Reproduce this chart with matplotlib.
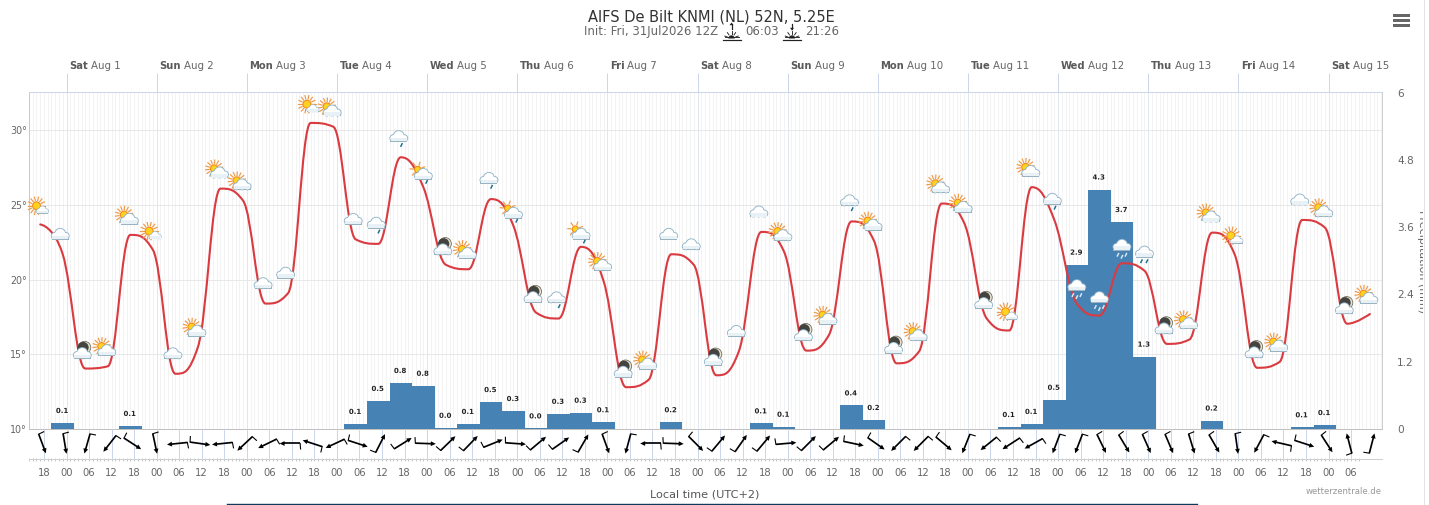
import numpy as np
import matplotlib
matplotlib.use("Agg")
import matplotlib.pyplot as plt
import matplotlib.patheffects as pe
from matplotlib.path import Path
from matplotlib.patches import PathPatch, Circle, Rectangle, Polygon, Wedge
from matplotlib.lines import Line2D
from matplotlib.transforms import Affine2D, IdentityTransform, Bbox, blended_transform_factory

plt.rcParams["font.family"] = ["DejaVu Sans"]

# ---------------- data ----------------
title = "AIFS De Bilt KNMI (NL) 52N, 5.25E"
init_text = "Init: Fri, 31Jul2026 12Z"
sunrise = "06:03"
sunset = "21:26"

series_hours = list(range(-7, 348, 6))      # hours from Aug 1 00:00 local
temps = [23.7, 21.7, 14.05, 14.2, 23.0, 22.0, 13.7, 15.5, 26.1, 25.3, 18.4, 19.1,
         30.5, 30.25, 22.7, 22.4, 28.2, 26.2, 21.0, 20.7, 25.4, 23.6, 17.8, 17.4,
         22.2, 19.9, 12.8, 13.3, 21.7, 21.0, 13.6, 15.2, 23.2, 21.9, 15.25, 16.3,
         23.9, 22.6, 14.4, 15.2, 25.1, 23.8, 17.4, 16.6, 26.2, 24.0, 18.4, 17.6,
         21.1, 20.6, 15.7, 16.0, 23.15, 21.7, 14.1, 14.5, 24.0, 23.5, 17.05, 17.7]
icons = list("SCNPPSCPPPCC" "SPCRRTNPRTNR" "TPNPCCNCCPNP" "RPNPPPNSPRHH" "HDNPPSNPCPNP")

bar_hours = [-1, 17, 77, 83, 89, 95, 101, 107, 113, 119, 125, 131, 137, 143, 161, 185, 191,
             209, 215, 251, 257, 263, 269, 275, 281, 287, 305, 329, 335]
bar_values = [0.107, 0.054, 0.09, 0.50, 0.82, 0.77, 0.02, 0.09, 0.48, 0.32, 0.01, 0.27, 0.29,
              0.12, 0.12, 0.10, 0.04, 0.42, 0.16, 0.035, 0.09, 0.52, 2.93, 4.27, 3.69, 1.29,
              0.15, 0.03, 0.07]
bar_labels = ["0.1", "0.1", "0.1", "0.5", "0.8", "0.8", "0.0", "0.1", "0.5", "0.3", "0.0", "0.3",
              "0.3", "0.1", "0.2", "0.1", "0.1", "0.4", "0.2", "0.1", "0.1", "0.5", "2.9", "4.3",
              "3.7", "1.3", "0.2", "0.1", "0.1"]

wind_angles = [-69.5, -80.5, -106, -128, -33, -78, 186, -8, 186, 223, 206, 180, 162, 205, -18,
               63, 32, -2, 44, 46, 22, -4, 40, 35, 60, -70, 255, 180, -2, -45, 50, 55, 50, 5,
               45, 40, -12, -35, 225, 225, -40, 248, 219, 213, 209, 249, 249, -64, -59, -66,
               -67, -73, -60, -82, 242, 167, -18, -57, 104.5, 75.5]

day_hours = [24 * i for i in range(15)]
day_names = ["Sat", "Sun", "Mon", "Tue", "Wed", "Thu", "Fri", "Sat", "Sun", "Mon", "Tue", "Wed",
             "Thu", "Fri", "Sat"]
day_dates = ["Aug %d" % d for d in range(1, 16)]
tick_hours = list(range(-6, 343, 6))
tick_labels = ["%02d" % (h % 24) for h in tick_hours]
temp_ticks = [10, 15, 20, 25, 30]
precip_ticks = [0, 1.2, 2.4, 3.6, 4.8, 6]
precip_tick_labels = ["0", "1.2", "2.4", "3.6", "4.8", "6"]

# ---------------- figure ----------------
W, H = 1429, 505
DPI = 72
fig = plt.figure(figsize=((W + 0.01) / DPI, (H + 0.01) / DPI), dpi=DPI, facecolor="white")
ID = IdentityTransform()
def py(y):
    return H - y

L, R, T, B = 28.5, 1382.0, 92.5, 429.0
rect = [L / W, (H - B) / H, (R - L) / W, (B - T) / H]
XLIM = ((L - 66.5) / 3.756, (R - 66.5) / 3.756)
TLIM = (10, 10 + (B - T) / 14.93)

GREY = "#666666"
AX = "#ccd6eb"

ax_t = fig.add_axes(rect, zorder=1)
ax_p = fig.add_axes(rect, zorder=2, facecolor="none")
ax_l = fig.add_axes(rect, zorder=3, facecolor="none")
for a in (ax_t, ax_p, ax_l):
    a.set_xlim(*XLIM)
ax_t.set_ylim(*TLIM)
ax_l.set_ylim(*TLIM)
ax_p.set_ylim(0, 6)
ax_l.axis("off")

# background axis: temperature grid, day ticks
ax_t.set_yticks(temp_ticks)
ax_t.set_yticklabels(["%d°" % t for t in temp_ticks], fontsize=9.5, color=GREY)
ax_t.tick_params(axis="y", length=0, pad=1.5)
ax_t.xaxis.tick_top()
ax_t.set_xticks(day_hours)
ax_t.set_xticklabels([])
ax_t.tick_params(axis="x", which="major", length=19.5, width=1, color=AX)
ax_t.set_xticks(np.arange(-10, 351), minor=True)
ax_t.tick_params(axis="x", which="minor", length=0)
ax_t.grid(axis="y", color="#e8e8e8", lw=1)
ax_t.grid(axis="x", which="minor", color="#f3f3f3", lw=1)
ax_t.vlines(day_hours, *TLIM, color="#e2e6ee", lw=1, zorder=1)
ax_t.set_axisbelow(True)
for s, c in zip(("top", "left", "right", "bottom"), (AX, "#c8c8c8", "#d0d0d0", "#c0c0c0")):
    ax_t.spines[s].set_color(c)
    ax_t.spines[s].set_linewidth(1)

# precipitation bars
ax_p.bar(bar_hours, bar_values, width=6, color="#4682b4", linewidth=0, zorder=2)
for h, v, s in zip(bar_hours, bar_values, bar_labels):
    ax_p.annotate(s, (h, v), xytext=(-0.6, 12), textcoords="offset pixels", ha="center", va="center",
                  fontsize=7, fontweight="bold", color="#222222", zorder=3,
                  path_effects=[pe.withStroke(linewidth=2, foreground="white")])
for s in ax_p.spines.values():
    s.set_visible(False)
ax_p.yaxis.tick_right()
ax_p.set_yticks(precip_ticks)
ax_p.set_yticklabels(precip_tick_labels, fontsize=10.5, color=GREY)
ax_p.tick_params(axis="y", length=0, pad=15)
ax_p.set_xticks(tick_hours)
ax_p.set_xticklabels(tick_labels, fontsize=10, color=GREY)
ax_p.tick_params(axis="x", length=30, width=1, color=AX, pad=9)

# temperature: Highcharts style spline
def spline_path(xs, ys, smoothing=1.5):
    verts = [(xs[0], ys[0])]
    codes = [Path.MOVETO]
    n = len(xs)
    rx, ry = xs[0], ys[0]
    for i in range(1, n):
        x, y = xs[i], ys[i]
        if i < n - 1:
            px, p_y, nx, ny = xs[i - 1], ys[i - 1], xs[i + 1], ys[i + 1]
            d = smoothing + 1
            lcx, lcy = (smoothing * x + px) / d, (smoothing * y + p_y) / d
            rcx, rcy = (smoothing * x + nx) / d, (smoothing * y + ny) / d
            c = (rcy - lcy) * (rcx - x) / (rcx - lcx) + y - rcy
            lcy += c
            rcy += c
            if lcy > p_y and lcy > y:
                lcy = max(p_y, y); rcy = 2 * y - lcy
            elif lcy < p_y and lcy < y:
                lcy = min(p_y, y); rcy = 2 * y - lcy
            if rcy > ny and rcy > y:
                rcy = max(ny, y); lcy = 2 * y - rcy
            elif rcy < ny and rcy < y:
                rcy = min(ny, y); lcy = 2 * y - rcy
        else:
            lcx, lcy, rcx, rcy = x, y, x, y
        verts += [(rx, ry), (lcx, lcy), (x, y)]
        codes += [Path.CURVE4] * 3
        rx, ry = rcx, rcy
    return Path(verts, codes)

ax_l.add_patch(PathPatch(spline_path(series_hours, temps), fc="none", ec="#da3b40", lw=2.1,
                         zorder=3, capstyle="round"))

# weather icons, drawn in pixel offsets around each data point
def add(art):
    art.set_clip_on(False)
    ax_l.add_artist(art)

def cloud(t, cx, cy, s=1.0, edge="#8fb4c8", fill="white"):
    tt = Affine2D().scale(s).translate(cx, cy) + t
    parts = [((0, 1.5), 5.0), ((-5.5, -0.6), 3.0), ((5.5, -0.6), 3.0), ((-2.8, 0.2), 3.4)]
    for (xy, r) in parts:
        add(Circle(xy, r + 0.9, fc=edge, ec="none", transform=tt, zorder=5))
    add(Rectangle((-8.5, -4.5), 17, 3.0, fc="#9ab3c0", ec="none", transform=tt, zorder=5))
    for (xy, r) in parts:
        add(Circle(xy, r, fc=fill, ec="none", transform=tt, zorder=6))
    add(Rectangle((-8, -3.6), 16, 3.4, fc="#e8f1f6", ec="none", transform=tt, zorder=6))

def sun(t, cx, cy, disc=3.2, rin=4.6, rout=8.0, n=13, a0=0, a1=360):
    tt = Affine2D().translate(cx, cy) + t
    for a in np.linspace(a0, a1, n, endpoint=(a1 - a0) < 360):
        c, s = np.cos(np.radians(a)), np.sin(np.radians(a))
        add(Line2D([rin * c, rout * c], [rin * s, rout * s], color="#ee9a48", lw=1.2,
                   transform=tt, zorder=4.5))
    add(Circle((0, 0), disc + 0.7, fc="#f08a1d", ec="none", transform=tt, zorder=4.6))
    add(Circle((0, 0), disc - 0.4, fc="#ffd21f", ec="none", transform=tt, zorder=4.7))

def moon(t, cx, cy):
    tt = Affine2D().translate(cx, cy) + t
    add(Circle((0, 0), 6.2, fc="#e9e2cf", ec="#6a6a5a", lw=0.8, transform=tt, zorder=4.6))
    add(Circle((-1.5, 0), 5.6, fc="#43433f", ec="none", transform=tt, zorder=4.7))

def drop(t, cx, cy, c="#1c6f93"):
    tt = Affine2D().translate(cx, cy) + t
    add(Line2D([0.6, -0.6], [1.2, -1.2], color=c, lw=1.5, transform=tt, zorder=7))

for h, v, k in zip(series_hours, temps, icons):
    t = Affine2D().translate(*ax_l.transData.transform((h, v)))
    if k == "C":
        cloud(t, -2.5, 19)
    elif k == "P":
        sun(t, -6.3, 20, disc=3.6, rin=5.2, rout=8.6, a0=10, a1=290, n=12)
        cloud(t, -1, 14.7)
    elif k == "S":
        sun(t, -3.7, 18.7, disc=3.8, rin=5.4, rout=8.8, n=14)
        cloud(t, 2.3, 13.7, s=0.68)
    elif k == "N":
        moon(t, -0.7, 21)
        cloud(t, -3, 14)
    elif k == "R":
        cloud(t, -2, 19.7)
        drop(t, 0.7, 12.3)
    elif k == "T":
        sun(t, -5.7, 17.7, disc=3, rin=4.6, rout=7.5, a0=20, a1=280, n=6)
        cloud(t, 0, 11.7)
        drop(t, 3.3, 5.3)
    elif k == "H":
        cloud(t, 0, 17)
        for dx, dy in ((-4, 8.5), (0, 6.5), (4, 8.5)):
            drop(t, dx, dy, c="#d8e8f0" if 265 < h < 285 else "#1c6f93")
    elif k == "D":
        cloud(t, 0, 17.7)
        for dx, dy in ((-3, 9.5), (2.5, 9.5)):
            drop(t, dx, dy)

# wind arrows below the chart
base_y = ax_l.transData.transform((0, TLIM[0]))[1]
for h, ang in zip(series_hours, wind_angles):
    cx = ax_l.transData.transform((h, TLIM[0]))[0] + 2
    tt = Affine2D().rotate_deg(ang).translate(cx, base_y - 14.5)
    add(Line2D([-10, 6.5], [0, 0], color="black", lw=1.7, transform=tt, zorder=8, solid_capstyle="butt"))
    add(Polygon([(10.5, 0), (5.5, 2.4), (5.5, -2.4)], fc="black", ec="none", transform=tt, zorder=8))
    bx, by = 5.5 * np.cos(np.radians(95)), 5.5 * np.sin(np.radians(95))
    add(Line2D([-10, -10 + bx], [0, by], color="black", lw=1.1, transform=tt, zorder=8))

# hour ruler
trans = blended_transform_factory(ax_t.transData, ID)
fig.add_artist(Line2D([L, R], [py(459)] * 2, color="#cfcfcf", lw=1, transform=ID))
ruler = np.arange(-10, 345)
ax_t.vlines(ruler, py(457.5), py(460.5), color="#c8c8c8", lw=1, transform=trans, clip_on=False)

# day labels
for h, n, d in zip(day_hours, day_names, day_dates):
    x = ax_t.transData.transform((h, 0))[0] + 2.5
    b = fig.text(x, py(66), n, transform=ID, fontsize=10, fontweight="bold", color="#5a5a5a",
                 ha="left", va="center")
    ax_t.annotate(d, xy=(1, 0.5), xycoords=b, xytext=(3, 0), textcoords="offset pixels",
                  fontsize=10.2, color=GREY, ha="left", va="center", annotation_clip=False)

# title block
fig.text(711.5, py(17), title, transform=ID, fontsize=14.6, color="#333333", ha="center", va="center")
fig.text(584, py(31), init_text, transform=ID, fontsize=11.8, color=GREY, ha="left", va="center")
fig.text(745, py(31), sunrise, transform=ID, fontsize=11.8, color=GREY, ha="left", va="center")
fig.text(805, py(31), sunset, transform=ID, fontsize=11.8, color=GREY, ha="left", va="center")

def sun_icon(cx, up):
    yb = py(39.5)
    fig.add_artist(Line2D([cx - 9, cx + 9], [yb, yb], color="#222222", lw=1.2, transform=ID))
    fig.add_artist(Line2D([cx - 7, cx + 7], [yb + 2.4, yb + 2.4], color="#222222", lw=0.9, transform=ID))
    fig.add_artist(Wedge((cx, yb + 1), 3.2, 0, 180, fc="#222222", ec="none", transform=ID))
    for a in (20, 55, 90, 125, 160):
        c, s = np.cos(np.radians(a)), np.sin(np.radians(a))
        fig.add_artist(Line2D([cx + 4.4 * c, cx + 7.2 * c], [yb + 1 + 4.4 * s, yb + 1 + 7.2 * s],
                              color="#222222", lw=0.9, transform=ID))
    y0, y1 = py(29), py(24)
    if up:
        tail, head = y0, y1
    else:
        tail, head = y1, y0
    fig.add_artist(Line2D([cx, cx], [tail, head], color="#222222", lw=1.2, transform=ID))
    sgn = 1 if up else -1
    fig.add_artist(Polygon([(cx, head + 1.5 * sgn), (cx - 2, head - 1.2 * sgn), (cx + 2, head - 1.2 * sgn)],
                           fc="#222222", ec="none", transform=ID))
sun_icon(731.5, True)
sun_icon(792, False)

# menu icon
for yy in (14, 19, 24):
    fig.add_artist(Rectangle((1393, py(yy + 3)), 17, 3, fc="#666666", ec="none", transform=ID))

# right hand rule, clipped rotated axis title
fig.add_artist(Line2D([1423.5, 1423.5], [0, H], color="#e4e4e4", lw=1, transform=ID))
yl = fig.text(1422, py(261.5), "Precipitation (mm)", transform=ID, rotation=270, fontsize=11,
              color=GREY, ha="center", va="center")
yl.set_clip_box(Bbox([[1400, 0], [1423, H]]))
yl.set_clip_on(True)

fig.text(705, py(494), "Local time (UTC+2)", transform=ID, fontsize=11.2, color="#555555",
         ha="center", va="center")
fig.text(1382, py(491), "wetterzentrale.de", transform=ID, fontsize=8.5, color="#999999",
         ha="right", va="center")
fig.add_artist(Line2D([227, 1197], [0.7, 0.7], color="#0e3a5c", lw=1.4, transform=ID))

fig.savefig("out.png", dpi=DPI)
